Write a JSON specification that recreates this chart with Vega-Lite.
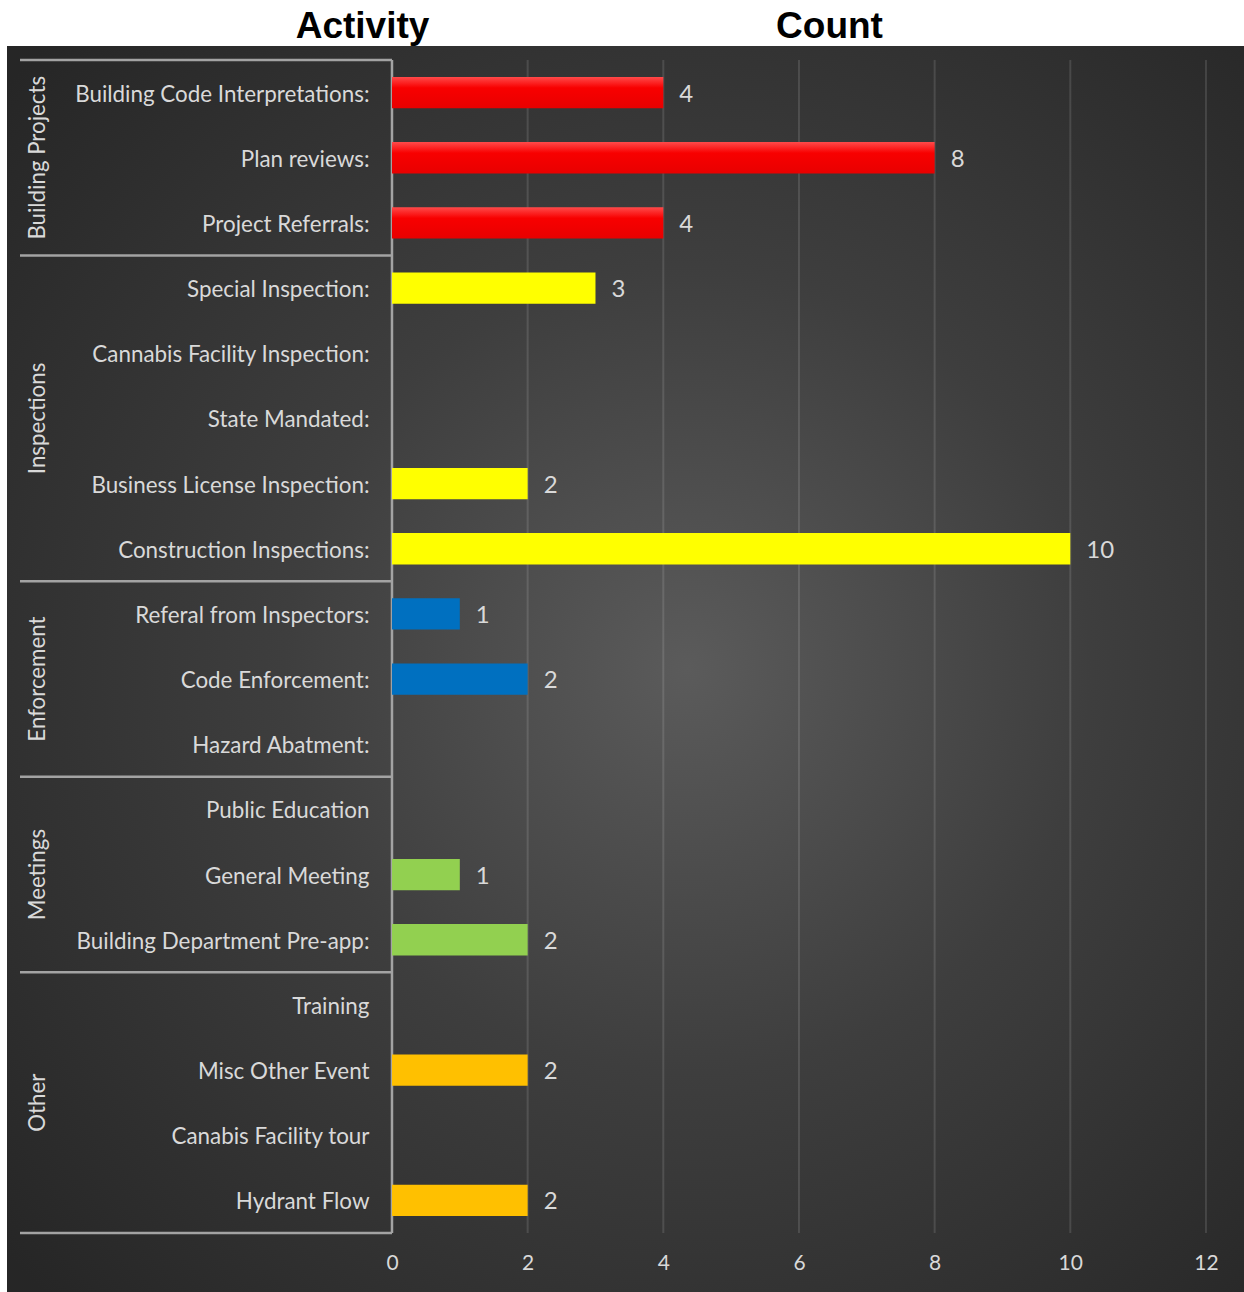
{
  "$schema": "https://vega.github.io/schema/vega-lite/v6.json",
  "autosize": "none",
  "padding": {"left": 7, "top": 46, "right": 0, "bottom": 0},
  "width": 1237,
  "height": 1246,
  "background": "#ffffff",
  "config": {
    "view": {
      "stroke": null,
      "fill": {
        "gradient": "radial",
        "x1": 0.55, "y1": 0.5, "r1": 0,
        "x2": 0.55, "y2": 0.5, "r2": 0.72,
        "stops": [
          {"offset": 0, "color": "#5b5b5b"},
          {"offset": 0.45, "color": "#3e3e3e"},
          {"offset": 1, "color": "#262626"}
        ]
      }
    },
    "font": "Lato"
  },
  "datasets": {
    "rows": [
      {"group": "Building Projects", "activity": "Building Code Interpretations:", "count": 4},
      {"group": "Building Projects", "activity": "Plan reviews:", "count": 8},
      {"group": "Building Projects", "activity": "Project Referrals:", "count": 4},
      {"group": "Inspections", "activity": "Special Inspection:", "count": 3},
      {"group": "Inspections", "activity": "Cannabis Facility Inspection:", "count": null},
      {"group": "Inspections", "activity": "State Mandated:", "count": null},
      {"group": "Inspections", "activity": "Business License Inspection:", "count": 2},
      {"group": "Inspections", "activity": "Construction Inspections:", "count": 10},
      {"group": "Enforcement", "activity": "Referal from Inspectors:", "count": 1},
      {"group": "Enforcement", "activity": "Code Enforcement:", "count": 2},
      {"group": "Enforcement", "activity": "Hazard Abatment:", "count": null},
      {"group": "Meetings", "activity": "Public Education", "count": null},
      {"group": "Meetings", "activity": "General Meeting", "count": 1},
      {"group": "Meetings", "activity": "Building Department Pre-app:", "count": 2},
      {"group": "Other", "activity": "Training", "count": null},
      {"group": "Other", "activity": "Misc Other Event", "count": 2},
      {"group": "Other", "activity": "Canabis Facility tour", "count": null},
      {"group": "Other", "activity": "Hydrant Flow", "count": 2}
    ],
    "groups": [
      {"group": "Building Projects", "first": "Building Code Interpretations:", "middle": "Plan reviews:"},
      {"group": "Inspections", "first": "Special Inspection:", "middle": "State Mandated:"},
      {"group": "Enforcement", "first": "Referal from Inspectors:", "middle": "Code Enforcement:"},
      {"group": "Meetings", "first": "Public Education", "middle": "General Meeting"}
    ],
    "othergroup": [
      {"group": "Other", "first": "Training", "middle": "Misc Other Event"}
    ],
    "gridticks": [
      {"tick": 2}, {"tick": 4}, {"tick": 6}, {"tick": 8}, {"tick": 10}, {"tick": 12}
    ]
  },
  "encoding": {
    "y": {
      "field": "activity",
      "type": "nominal",
      "scale": {
        "domain": [
          "Building Code Interpretations:", "Plan reviews:", "Project Referrals:",
          "Special Inspection:", "Cannabis Facility Inspection:", "State Mandated:",
          "Business License Inspection:", "Construction Inspections:",
          "Referal from Inspectors:", "Code Enforcement:", "Hazard Abatment:",
          "Public Education", "General Meeting", "Building Department Pre-app:",
          "Training", "Misc Other Event", "Canabis Facility tour", "Hydrant Flow"
        ],
        "paddingInner": 0,
        "paddingOuter": 0.56,
        "align": 0.1918
      },
      "axis": {
        "title": "Activity",
        "titleAngle": 0,
        "titleX": 355,
        "titleY": -9,
        "titleAlign": "center",
        "titleBaseline": "alphabetic",
        "titleAnchor": null,
        "titleFont": "Liberation Sans",
        "titleFontSize": 37,
        "titleFontWeight": "bold",
        "titleColor": "#000000",
        "domain": false,
        "ticks": false,
        "tickSize": 0,
        "grid": false,
        "labelPadding": -362,
        "labelOffset": 2,
        "labelLimit": 500,
        "labelFontSize": 22.4,
        "labelColor": "#d9d9d9",
        "labelFont": "Lato"
      }
    },
    "x": {
      "type": "quantitative",
      "scale": {"domain": [-5.6757, 12.5608], "nice": false, "zero": false}
    }
  },
  "layer": [
    {
      "data": {"name": "gridticks"},
      "mark": {"type": "rule", "color": "#ffffff", "opacity": 0.12, "strokeWidth": 2},
      "encoding": {
        "x": {"field": "tick", "type": "quantitative"},
        "y": {"datum": "Building Code Interpretations:", "bandPosition": 0},
        "y2": {"datum": "Hydrant Flow", "bandPosition": 1}
      }
    },
    {
      "data": {"name": "groups"},
      "mark": {"type": "rule", "color": "#a3a3a3", "strokeWidth": 2.5},
      "encoding": {
        "x": {"datum": -5.484},
        "x2": {"datum": 0},
        "y": {"field": "first", "type": "nominal", "bandPosition": 0}
      }
    },
    {
      "data": {"name": "othergroup"},
      "mark": {"type": "rule", "color": "#a3a3a3", "strokeWidth": 2.5},
      "encoding": {
        "x": {"datum": -5.484},
        "x2": {"datum": 0},
        "y": {"field": "first", "type": "nominal", "bandPosition": 0}
      }
    },
    {
      "data": {"name": "othergroup"},
      "mark": {"type": "rule", "color": "#a3a3a3", "strokeWidth": 2.5},
      "encoding": {
        "x": {"datum": -5.484},
        "x2": {"datum": 0},
        "y": {"datum": "Hydrant Flow", "bandPosition": 1}
      }
    },
    {
      "data": {"name": "othergroup"},
      "mark": {"type": "rule", "color": "#a3a3a3", "strokeWidth": 2.5},
      "encoding": {
        "x": {"datum": 0},
        "y": {"datum": "Building Code Interpretations:", "bandPosition": 0},
        "y2": {"datum": "Hydrant Flow", "bandPosition": 1}
      }
    },
    {
      "data": {"name": "groups"},
      "mark": {"type": "text", "angle": 270, "align": "center", "baseline": "middle", "fontSize": 22.3, "color": "#d9d9d9", "font": "Lato", "dx": 0},
      "encoding": {
        "x": {"datum": -5.22},
        "y": {"field": "middle", "type": "nominal"},
        "text": {"field": "group"}
      }
    },
    {
      "data": {"name": "othergroup"},
      "mark": {"type": "text", "angle": 270, "align": "center", "baseline": "middle", "fontSize": 22.3, "color": "#d9d9d9", "font": "Lato"},
      "encoding": {
        "x": {"datum": -5.22},
        "y": {"field": "middle", "type": "nominal", "bandPosition": 1},
        "text": {"field": "group"}
      }
    },
    {
      "data": {"name": "rows"},
      "mark": {"type": "bar", "height": {"band": 0.48}},
      "encoding": {
        "x": {
          "field": "count",
          "type": "quantitative",
          "axis": {
            "title": "Count",
            "titleX": 822,
            "titleY": -1255,
            "titleAlign": "center",
            "titleBaseline": "alphabetic",
            "titleAnchor": null,
            "titleFont": "Liberation Sans",
            "titleFontSize": 37,
            "titleFontWeight": "bold",
            "titleColor": "#000000",
            "values": [0, 2, 4, 6, 8, 10, 12],
            "format": "d",
            "domain": false,
            "ticks": false,
            "tickSize": 0,
            "grid": false,
            "labelPadding": -40,
            "labelFlush": false,
            "labelFontSize": 21,
            "labelColor": "#d9d9d9",
            "labelFont": "Lato"
          }
        },
        "x2": {"datum": 0},
        "color": {
          "condition": {
            "test": "datum.group === 'Building Projects'",
            "value": {
              "gradient": "linear", "x1": 0, "y1": 0, "x2": 0, "y2": 1,
              "stops": [
                {"offset": 0, "color": "#ff4a4a"},
                {"offset": 0.35, "color": "#f80000"},
                {"offset": 1, "color": "#e80000"}
              ]
            }
          },
          "field": "group",
          "type": "nominal",
          "scale": {
            "domain": ["Building Projects", "Inspections", "Enforcement", "Meetings", "Other"],
            "range": ["#ff0000", "#ffff00", "#0070c0", "#92d050", "#ffc000"]
          },
          "legend": null
        }
      }
    },
    {
      "data": {"name": "rows"},
      "mark": {"type": "text", "align": "left", "baseline": "middle", "dx": 16, "dy": 2, "fontSize": 24, "color": "#d9d9d9", "font": "Lato"},
      "encoding": {
        "x": {"field": "count", "type": "quantitative"},
        "text": {"field": "count", "type": "quantitative"}
      }
    }
  ]
}
